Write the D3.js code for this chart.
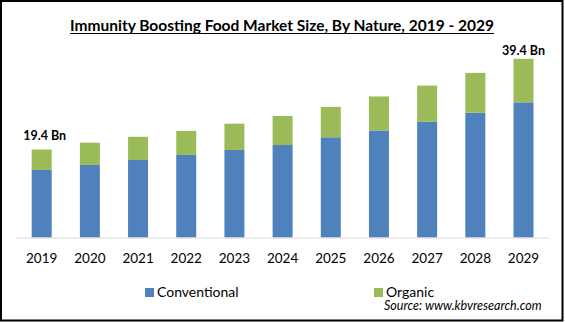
<!DOCTYPE html>
<html>
<head>
<meta charset="utf-8">
<script src="https://cdn.jsdelivr.net/npm/d3@7"></script>
<style>
  html, body { margin: 0; padding: 0; background: #fff; }
  svg { display: block; }
</style>
</head>
<body>
<svg id="chart" width="565" height="322"></svg>
<script>
// Market size in USD billion, split by nature
const years = ["2019","2020","2021","2022","2023","2024","2025","2026","2027","2028","2029"];
const conventional = [14.9, 16.0, 17.1, 18.2, 19.3, 20.4, 22.1, 23.6, 25.5, 27.5, 29.8];
const organic      = [4.5, 4.9, 5.1, 5.3, 5.8, 6.4, 6.7, 7.5, 8.0, 8.8, 9.6];
const seriesNames = ["Conventional", "Organic"];
const seriesColors = ["#4F81BD", "#9BBB59"];
const endLabels = [{ year: "2019", text: "19.4 Bn", total: 19.4 }, { year: "2029", text: "39.4 Bn", total: 39.4 }];
const titleText = "Immunity Boosting Food Market Size, By Nature, 2019 - 2029";
const sourceText = "Source:  www.kbvresearch.com";

const svg = d3.select("#chart");
const W = 565, H = 322;
const font = "Lato, 'Open Sans', sans-serif";

// frame
svg.append("rect").attr("x", 1).attr("y", 1).attr("width", W - 3.5).attr("height", H - 2.5)
  .attr("fill", "#fff").attr("stroke", "#000").attr("stroke-width", 2);

// title
const title = svg.append("text").attr("x", 282).attr("y", 30.5)
  .attr("text-anchor", "middle").attr("font-family", font).attr("font-weight", "bold")
  .attr("font-size", 15.5).attr("fill", "#000").text(titleText);
const tb = title.node().getBBox();
svg.append("line").attr("x1", tb.x).attr("x2", tb.x + tb.width)
  .attr("y1", 33.5).attr("y2", 33.5).attr("stroke", "#000").attr("stroke-width", 1.2);

const baseY = 237.5;
const x = d3.scaleBand().domain(years).range([17.6, 547.6]).paddingInner(0.585).paddingOuter(0.2925);
const y = d3.scaleLinear().domain([0, 40]).range([baseY, baseY - 40 * 4.535]);

const rows = years.map((yr, i) => ({ year: yr, Conventional: conventional[i], Organic: organic[i] }));
const stacked = d3.stack().keys(seriesNames)(rows);

svg.append("g").selectAll("g").data(stacked).join("g")
  .attr("fill", (d, i) => seriesColors[i])
  .selectAll("rect").data(d => d).join("rect")
  .attr("x", d => x(d.data.year))
  .attr("width", x.bandwidth())
  .attr("y", d => y(d[1]))
  .attr("height", d => y(d[0]) - y(d[1]));

// baseline
svg.append("line").attr("x1", 16).attr("x2", 549.5).attr("y1", baseY + 0.5).attr("y2", baseY + 0.5)
  .attr("stroke", "#D9D9D9").attr("stroke-width", 1);

// year axis
const xAxis = svg.append("g").attr("transform", `translate(0,${baseY})`)
  .call(d3.axisBottom(x).tickSize(0).tickPadding(16));
xAxis.select(".domain").remove();
xAxis.selectAll("text").attr("font-family", font).attr("font-size", 13.5).attr("fill", "#000");

// total labels on first and last bars
const labelGap = { "2019": 10, "2029": 4 };
svg.append("g").selectAll("text").data(endLabels).join("text")
  .attr("x", d => x(d.year) + x.bandwidth() / 2 + (d.year === "2019" ? 3 : 0))
  .attr("y", d => y(d.total) - labelGap[d.year])
  .attr("text-anchor", "middle").attr("font-family", font).attr("font-weight", "bold")
  .attr("font-size", 12.5).attr("fill", "#000").text(d => d.text);

// legend
const legendX = [145, 374];
const legend = svg.append("g").selectAll("g").data(seriesNames).join("g")
  .attr("transform", (d, i) => `translate(${legendX[i]},288)`);
legend.append("rect").attr("width", 9).attr("height", 9).attr("fill", (d, i) => seriesColors[i]);
legend.append("text").attr("x", 12).attr("y", 8.5).attr("font-family", font)
  .attr("font-size", 14).attr("fill", "#000").text(d => d);

// source
svg.append("text").attr("x", 384).attr("y", 310).attr("font-family", font)
  .attr("font-style", "italic").attr("font-size", 12.5).attr("fill", "#000").text(sourceText);
</script>
</body>
</html>
